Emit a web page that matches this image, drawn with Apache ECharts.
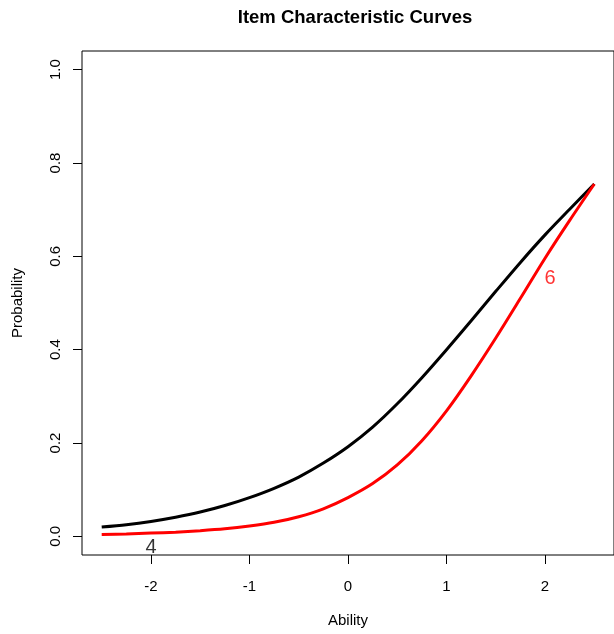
<!DOCTYPE html>
<html>
<head>
<meta charset="utf-8">
<title>Item Characteristic Curves</title>
<script src="https://cdn.jsdelivr.net/npm/echarts@6/dist/echarts.min.js"></script>
<style>
  html, body { margin: 0; padding: 0; background: #fff; }
  #chart { width: 614px; height: 634px; }
</style>
</head>
<body>
<div id="chart"></div>
<script>
// Ability grid shared by both item curves
const ability = [-2.5, -2.25, -2.0, -1.75, -1.5, -1.25, -1.0, -0.75, -0.5, -0.25,
                 0, 0.25, 0.5, 0.75, 1.0, 1.25, 1.5, 1.75, 2.0, 2.25, 2.5];

// Probability of a correct response, item 4
const item4 = [0.020, 0.025, 0.032, 0.041, 0.052, 0.066, 0.083, 0.103, 0.127, 0.157,
               0.192, 0.234, 0.284, 0.340, 0.400, 0.462, 0.525, 0.587, 0.646, 0.701, 0.755];

// Probability of a correct response, item 6
const item6 = [0.004, 0.005, 0.007, 0.009, 0.012, 0.016, 0.022, 0.030, 0.042, 0.059,
               0.083, 0.113, 0.153, 0.205, 0.269, 0.344, 0.425, 0.510, 0.596, 0.677, 0.755];

const itemNames = ['4', '6'];
const itemColors = ['#000000', '#ff0000'];
// where each item number is written on the plot (ability, probability)
const itemLabelAt = [[-2.0, -0.024], [2.05, 0.552]];

const xTicks = [-2, -1, 0, 1, 2];
const yTicks = [0, 0.2, 0.4, 0.6, 0.8, 1.0];

const FONT = '"Liberation Sans", Arial, sans-serif';

const curves = [item4, item6].map((vals, i) => ({
  name: itemNames[i],
  type: 'line',
  data: ability.map((a, k) => [a, vals[k]]),
  smooth: 0.3,
  showSymbol: false,
  silent: true,
  lineStyle: { color: itemColors[i], width: 3 },
  z: 2
}));

const labels = itemNames.map((n, i) => ({
  name: 'label ' + n,
  type: 'scatter',
  data: [itemLabelAt[i]],
  symbolSize: 1,
  itemStyle: { color: 'rgba(0,0,0,0)' },
  silent: true,
  label: {
    show: true,
    position: 'inside',
    formatter: n,
    color: itemColors[i],
    fontFamily: FONT,
    fontSize: 20
  },
  z: 3
}));

const chart = echarts.init(document.getElementById('chart'), null, { renderer: 'canvas' });
chart.setOption({
  animation: false,
  backgroundColor: '#ffffff',
  title: {
    text: 'Item Characteristic Curves',
    left: 350,
    textAlign: 'center',
    top: 3,
    textStyle: { fontFamily: FONT, fontSize: 18.5, fontWeight: 'bold', color: '#000' }
  },
  grid: {
    left: 82, right: -4, top: 51, bottom: 79,
    show: true, borderColor: '#000', borderWidth: 1, backgroundColor: 'transparent'
  },
  xAxis: {
    type: 'value',
    min: -2.7, max: 2.7,
    name: 'Ability',
    nameLocation: 'middle',
    nameGap: 58,
    nameMoveOverlap: false,
    nameTextStyle: { fontFamily: FONT, fontSize: 15, color: '#000' },
    axisLine: { show: false, onZero: false },
    splitLine: { show: false },
    axisTick: { show: true, inside: false, length: 9, customValues: xTicks, lineStyle: { color: '#000' } },
    axisLabel: { customValues: xTicks, margin: 24, fontFamily: FONT, fontSize: 15, color: '#000' }
  },
  yAxis: {
    type: 'value',
    min: -0.04, max: 1.04,
    name: 'Probability',
    nameLocation: 'middle',
    nameGap: 57,
    nameMoveOverlap: false,
    nameRotate: 90,
    nameTextStyle: { fontFamily: FONT, fontSize: 15, color: '#000' },
    axisLine: { show: false, onZero: false },
    splitLine: { show: false },
    axisTick: { show: true, inside: false, length: 9, customValues: yTicks, lineStyle: { color: '#000' } },
    axisLabel: {
      customValues: yTicks, rotate: 90, margin: 19,
      fontFamily: FONT, fontSize: 15, color: '#000',
      formatter: v => v.toFixed(1)
    }
  },
  series: curves.concat(labels)
});
</script>
</body>
</html>
